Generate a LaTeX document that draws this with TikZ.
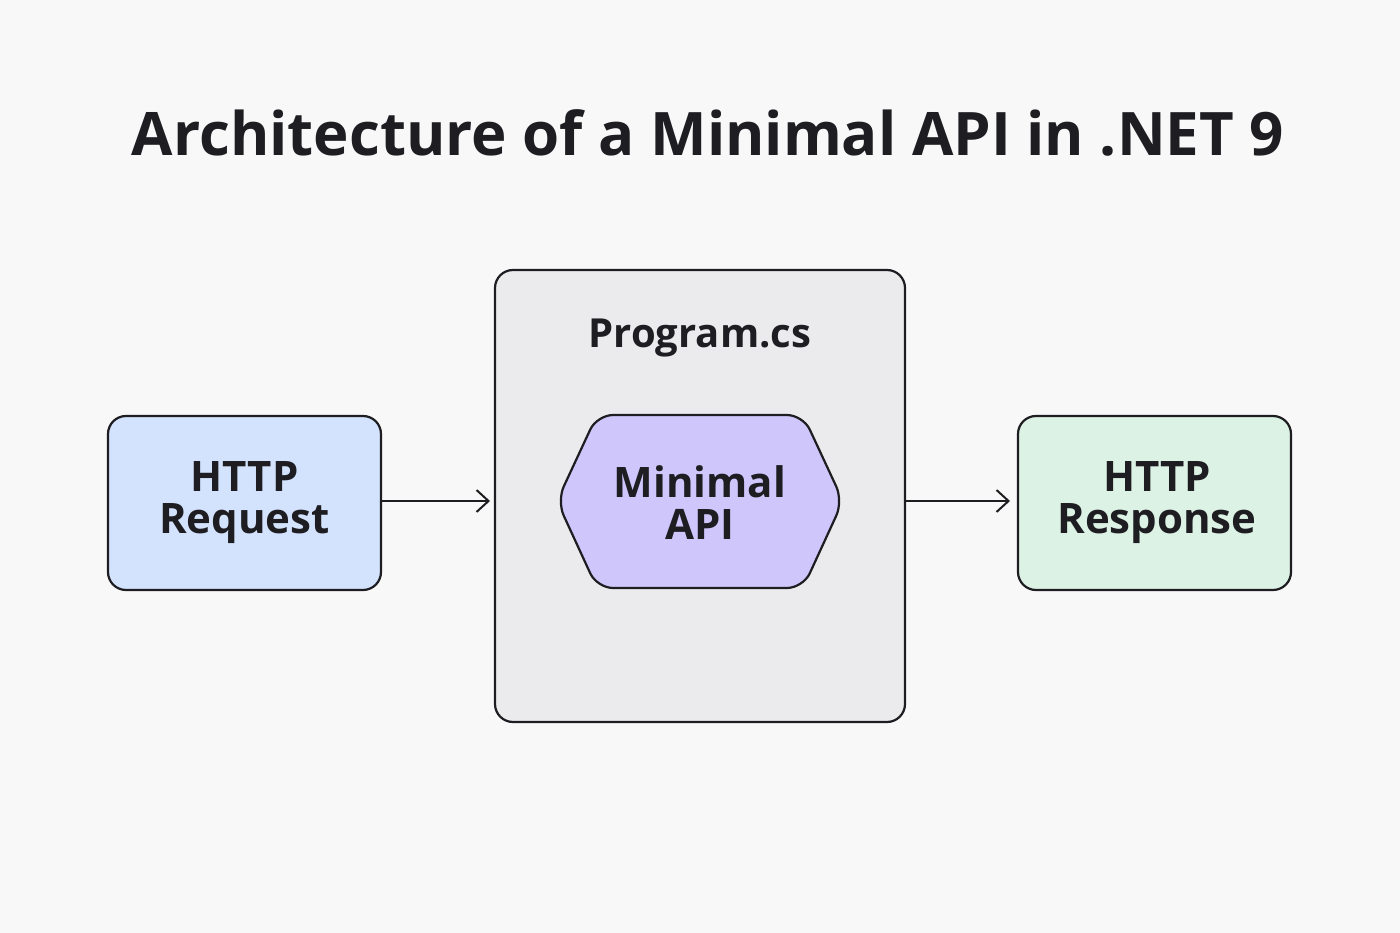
\documentclass[tikz,border=0pt]{standalone}
\usepackage{fontspec}
\setmainfont{Open Sans}
\usetikzlibrary{arrows.meta}
\definecolor{bg}{HTML}{F8F8F9}
\definecolor{ln}{HTML}{1E1E22}
\definecolor{blu}{HTML}{D3E3FD}
\definecolor{gry}{HTML}{EBEBED}
\definecolor{lav}{HTML}{CFC6FB}
\definecolor{grn}{HTML}{DCF2E4}
\begin{document}
\begin{tikzpicture}[x=1pt,y=-1pt,
  box/.style={draw=ln,line width=2.2pt,rounded corners=18pt},
  lbl/.style={font=\fontsize{42}{48}\selectfont\bfseries,text=ln,align=center},
  arr/.style={draw=ln,line width=2pt,-{Straight Barb[length=12pt,width=22pt,line width=2pt]}}]
\fill[bg] (0,0) rectangle (1400,933);
\useasboundingbox (0,0) rectangle (1400,933);
\node[font=\fontsize{60}{70}\selectfont\bfseries,text=ln] (title) at (708,133) {Architecture of a Minimal API in .NET 9};
\draw[box,fill=blu] (108,416) rectangle (381,590);
\node[lbl] (req) at (244.5,503) {HTTP\\[-6pt]Request};
\draw[box,fill=gry] (495,270) rectangle (905,722);
\node[lbl,font=\fontsize{40}{46}\selectfont\bfseries] (prog) at (700,338) {Program.cs};
\draw[draw=ln,line width=2.2pt,fill=lav,rounded corners=16pt] (557,501) -- (597,415) -- (803,415) -- (843,501) -- (803,588) -- (597,588) -- cycle;
\node[lbl] (api) at (700,503) {Minimal\\[-6pt]API};
\draw[box,fill=grn] (1018,416) rectangle (1291,590);
\node[lbl] (resp) at (1157,503) {HTTP\\[-6pt]Response};
\coordinate (a1) at (381,501); \coordinate (a2) at (490,501);
\coordinate (b1) at (905,501); \coordinate (b2) at (1010,501);
\draw[arr] (a1) -- (a2);
\draw[arr] (b1) -- (b2);
\end{tikzpicture}
\end{document}
